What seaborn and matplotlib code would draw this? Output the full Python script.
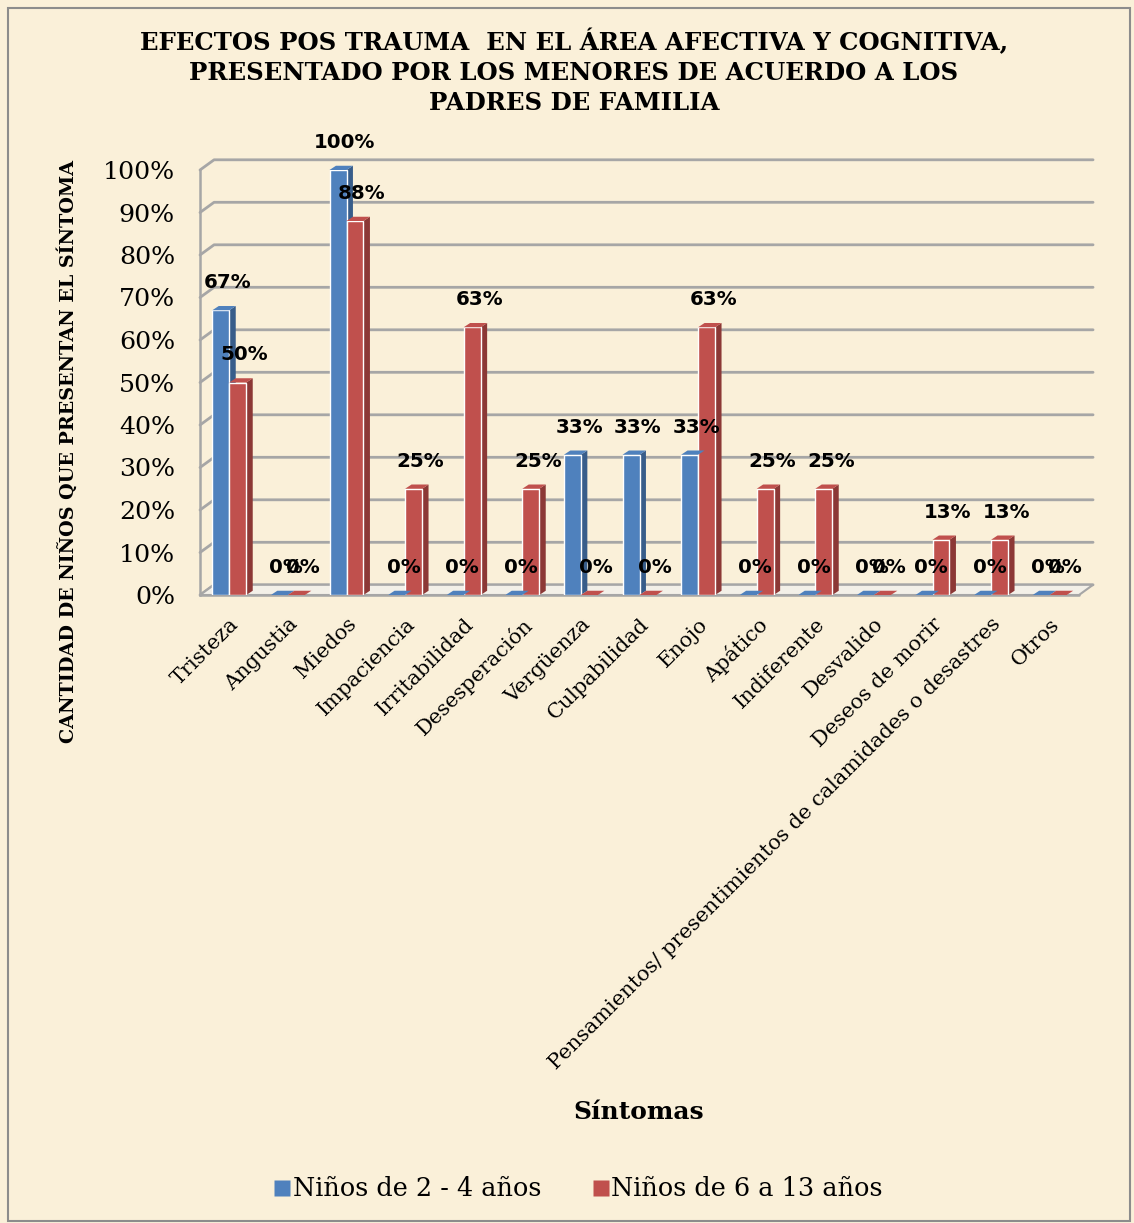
import numpy as np
import pandas as pd
import matplotlib
matplotlib.use("Agg")
import matplotlib.pyplot as plt
from matplotlib.patches import Polygon, Rectangle
from matplotlib.lines import Line2D
import seaborn as sns

# ---- data -----------------------------------------------------------------
sintomas = [
    "Tristeza", "Angustia", "Miedos", "Impaciencia", "Irritabilidad",
    "Desesperación", "Vergüenza", "Culpabilidad", "Enojo", "Apático",
    "Indiferente", "Desvalido", "Deseos de morir",
    "Pensamientos/ presentimientos de calamidades o desastres", "Otros",
]
grupos = ["Niños de 2 - 4 años", "Niños de 6 a 13 años"]
ninos_2_4 = [0.67, 0.0, 1.00, 0.0, 0.0, 0.0, 0.33, 0.33, 0.33, 0.0, 0.0, 0.0, 0.0, 0.0, 0.0]
ninos_6_13 = [0.50, 0.0, 0.88, 0.25, 0.63, 0.25, 0.0, 0.0, 0.63, 0.25, 0.25, 0.0, 0.13, 0.13, 0.0]
y_ticks = [0.0, 0.1, 0.2, 0.3, 0.4, 0.5, 0.6, 0.7, 0.8, 0.9, 1.0]

titulo = ("EFECTOS POS TRAUMA  EN EL ÁREA AFECTIVA Y COGNITIVA,\n"
          "PRESENTADO POR LOS MENORES DE ACUERDO A LOS\n"
          "PADRES DE FAMILIA")

df = pd.DataFrame({
    "Síntoma": sintomas * 2,
    "Grupo": [grupos[0]] * len(sintomas) + [grupos[1]] * len(sintomas),
    "Valor": ninos_2_4 + ninos_6_13,
})

# ---- style ----------------------------------------------------------------
sns.set_style("white")
plt.rcParams["font.family"] = ["DejaVu Serif"]
plt.rcParams["text.color"] = "black"
plt.rcParams["axes.labelcolor"] = "black"
plt.rcParams["xtick.color"] = "black"
plt.rcParams["ytick.color"] = "black"

BLUE = "#4F81BD"
RED = "#C0504D"
BLUE_SIDE = "#385D8A"
RED_SIDE = "#8C3836"
BG = "#FAF0D9"
GRID = "#A6A6A6"

W, H = 1134, 1223
fig = plt.figure(figsize=(W / 100, H / 100), dpi=100, facecolor=BG)
ax = fig.add_axes([200 / W, 1 - 595 / H, (1079 - 200) / W, (595 - 170) / H])
ax.set_facecolor("none")

sns.barplot(data=df, x="Síntoma", y="Valor", hue="Grupo", hue_order=grupos,
            palette=[BLUE, RED], width=0.58, saturation=1, gap=0,
            legend=False, ax=ax, zorder=3)

ax.set_xlim(-0.5, len(sintomas) - 0.5)
ax.set_ylim(0, 1.0)

# depth offsets of the pseudo-3D look (data units)
dx_bar, dy_bar = 0.11, 0.010
dx_wall, dy_wall = 0.24, 0.024

# back wall gridlines with the diagonal joints to the front axis
for yv in y_ticks:
    ax.add_line(Line2D([-0.5, -0.5 + dx_wall, len(sintomas) - 0.5 + dx_wall],
                       [yv, yv + dy_wall, yv + dy_wall],
                       color=GRID, lw=2, clip_on=False, zorder=1))
# floor
floor = Polygon([(-0.5, 0), (len(sintomas) - 0.5, 0),
                 (len(sintomas) - 0.5 + dx_wall, dy_wall), (-0.5 + dx_wall, dy_wall)],
                closed=True, facecolor="#F3F0E8", edgecolor=GRID, lw=1.5,
                clip_on=False, zorder=1.5)
ax.add_patch(floor)

# side and top faces of each column, built from the drawn bars
for container, side_col in zip(ax.containers, [BLUE_SIDE, RED_SIDE]):
    for bar in container:
        x0 = bar.get_x()
        w = bar.get_width()
        h = bar.get_height()
        side = Polygon([(x0 + w, 0), (x0 + w + dx_bar, dy_bar),
                        (x0 + w + dx_bar, h + dy_bar), (x0 + w, h)],
                       closed=True, facecolor=side_col, edgecolor="none",
                       clip_on=False, zorder=2.9)
        top = Polygon([(x0, h), (x0 + dx_bar, h + dy_bar),
                       (x0 + w + dx_bar, h + dy_bar), (x0 + w, h)],
                      closed=True, facecolor=bar.get_facecolor(), edgecolor="none",
                      clip_on=False, zorder=3.1)
        ax.add_patch(side)
        ax.add_patch(top)

# value labels
for container, vals in zip(ax.containers, [ninos_2_4, ninos_6_13]):
    for bar, v in zip(container, vals):
        ax.annotate(f"{v:.0%}", (bar.get_x() + bar.get_width() / 2, bar.get_height()),
                    xytext=(5, 13), textcoords="offset points",
                    ha="center", va="bottom", fontsize=14.3, fontweight="bold",
                    family="DejaVu Sans", color="black", zorder=5,
                    annotation_clip=False)

# axes decoration
for s in ["top", "right", "bottom"]:
    ax.spines[s].set_visible(False)
ax.spines["left"].set_color(GRID)
ax.spines["left"].set_linewidth(1.8)
ax.add_line(Line2D([-0.5, len(sintomas) - 0.5], [0, 0], color=GRID, lw=1.8,
                   clip_on=False, zorder=2))

ax.set_yticks(y_ticks)
ax.set_yticklabels([f"{t:.0%}" for t in y_ticks], fontsize=18.2)
ax.tick_params(axis="y", direction="out", length=6, width=1.5, color=GRID,
               labelcolor="black", pad=12)

ax.set_xticks(range(len(sintomas)))
ax.set_xticklabels(sintomas, rotation=45, ha="right", va="top",
                   rotation_mode="anchor", fontsize=15)
ax.set_xticks(np.arange(-0.5, len(sintomas), 1.0), minor=True)
ax.tick_params(axis="x", which="major", length=0, pad=14, labelcolor="black")
ax.tick_params(axis="x", which="minor", direction="out", length=6, width=1.5, color=GRID)

ax.set_xlabel("")
ax.set_ylabel("")

# titles
fig.text(574 / W, 1 - 72 / H, titulo, ha="center", va="center", fontsize=17.6,
         fontweight="bold", linespacing=1.33)
fig.text(68 / W, 1 - 452 / H, "CANTIDAD DE NIÑOS QUE PRESENTAN EL SÍNTOMA",
         rotation=90, ha="center", va="center", fontsize=13.8, fontweight="bold")
fig.text(639 / W, 1 - 1112 / H, "Síntomas", ha="center", va="center",
         fontsize=18, fontweight="bold")

# legend
handles = [Line2D([], [], marker="s", linestyle="none", markersize=11,
                  markerfacecolor=c, markeredgecolor="none") for c in [BLUE, RED]]
fig.legend(handles, grupos, loc="center", bbox_to_anchor=(578 / W, 1 - 1189 / H),
           ncol=2, frameon=False, fontsize=18.4, handletextpad=0.05,
           columnspacing=2.0, handlelength=0.7)

# chart frame
fig.add_artist(Rectangle((8 / W, 2 / H), 1 - 12 / W, 1 - 10 / H,
                         transform=fig.transFigure, fill=False,
                         edgecolor="#8C8C8C", lw=1.5))

fig.savefig("out.png", dpi=100, facecolor=BG)
